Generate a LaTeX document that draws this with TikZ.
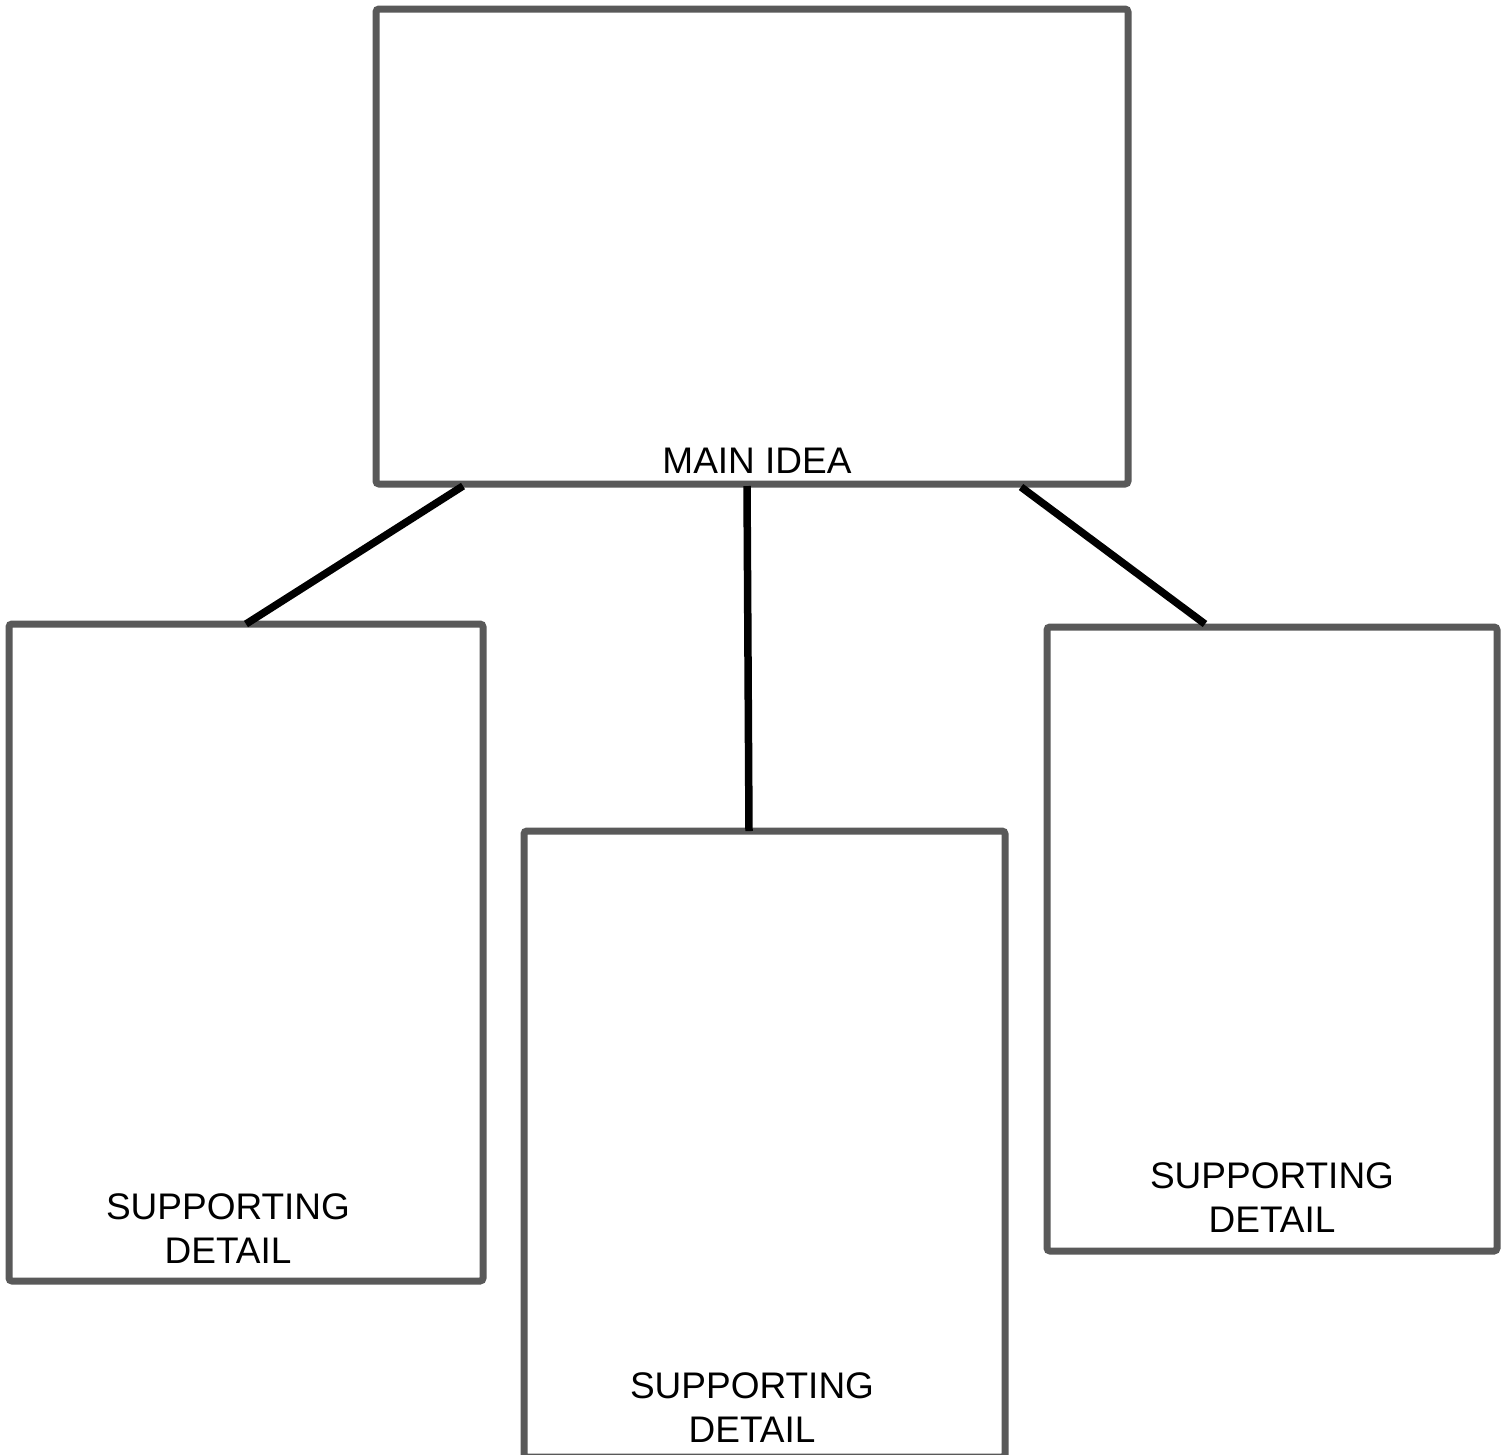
\documentclass[tikz,border=0pt]{standalone}
\usepackage{fontspec}
\setmainfont{Liberation Sans}
\usetikzlibrary{calc}
\definecolor{boxgray}{HTML}{595959}
\begin{document}
\begin{tikzpicture}[x=1pt,y=-1pt,
  box/.style={draw=boxgray,line width=7pt,rounded corners=3pt,rectangle,outer sep=0pt,inner sep=0pt,fill=white},
  conn/.style={draw=black,line width=7.5pt},
  lbl/.style={font=\fontsize{37}{44}\selectfont,anchor=base,inner sep=0pt}]
\useasboundingbox[fill=white] (0,0) rectangle (1506,1454);
\begin{scope}
\clip (0,0) rectangle (1506,1454);
\node[box,minimum width=752pt,minimum height=475pt] (main) at (752,246.5) {};
\node[box,minimum width=474pt,minimum height=657pt] (left) at (246,952.5) {};
\node[box,minimum width=481pt,minimum height=626pt] (mid) at (764.5,1144) {};
\node[box,minimum width=450pt,minimum height=624pt] (right) at (1272,939) {};
\end{scope}
\node[lbl] (tmain) at (757,473) {MAIN IDEA};
\node[lbl] (tl1) at (228,1219) {SUPPORTING};
\node[lbl] (tl2) at (228,1263) {DETAIL};
\node[lbl] (tm1) at (752,1398) {SUPPORTING};
\node[lbl] (tm2) at (752,1442) {DETAIL};
\node[lbl] (tr1) at (1272,1188) {SUPPORTING};
\node[lbl] (tr2) at (1272,1232) {DETAIL};
\draw[conn] ($(main.south west)+(87,2)$) -- (left.north);
\draw[conn] ($(main.south west)+(371,2)$) -- ($(mid.north west)+(225,0)$);
\draw[conn] ($(main.south west)+(645,3)$) -- ($(right.north west)+(158,-3)$);
\end{tikzpicture}
\end{document}
